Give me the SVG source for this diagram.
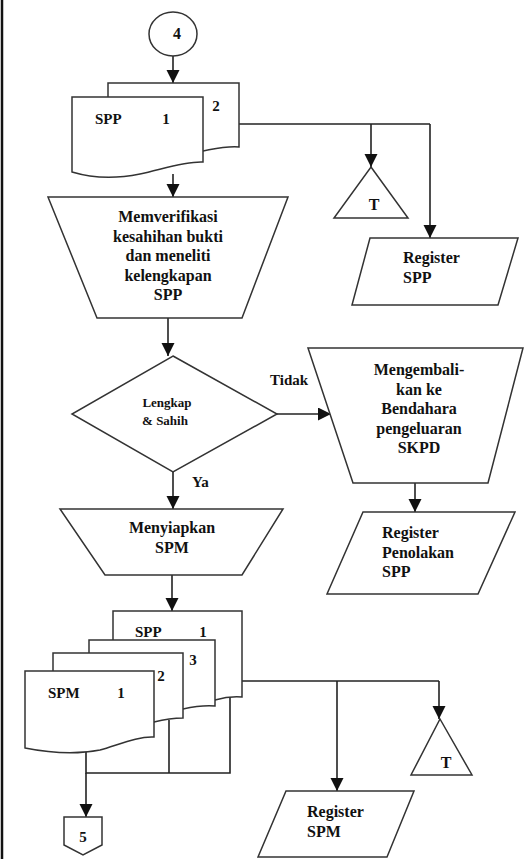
<svg xmlns="http://www.w3.org/2000/svg" width="530" height="859" viewBox="0 0 530 859">
<defs>
<marker id="ah" markerUnits="userSpaceOnUse" markerWidth="14" markerHeight="14" refX="13" refY="6.5" orient="auto">
<path d="M0,0 L13,6.5 L0,13 Z" fill="#111"/>
</marker>
<style>
.s{fill:#fff;stroke:#333;stroke-width:1.5}
.c{fill:none;stroke:#222;stroke-width:1.6}
.a{marker-end:url(#ah)}
.m{text-anchor:middle}
.sm{font-size:13px}
</style>
</defs>
<rect width="530" height="859" fill="#fff"/>
<line x1="2" y1="0" x2="2" y2="859" stroke="#111" stroke-width="2.5"/>

<g id="connectors">
<line class="c a" x1="173" y1="56" x2="173" y2="83"/>
<polyline class="c" points="239,124 430,124"/>
<line class="c a" x1="430" y1="124" x2="430" y2="238"/>
<line class="c a" x1="371" y1="124" x2="371" y2="167"/>
<line class="c a" x1="173" y1="174" x2="173" y2="197"/>
<line class="c a" x1="168" y1="318" x2="168" y2="356"/>
<line class="c a" x1="277" y1="414" x2="331" y2="414"/>
<line class="c a" x1="173" y1="472" x2="173" y2="509"/>
<line class="c a" x1="415" y1="483" x2="415" y2="512"/>
<line class="c a" x1="172" y1="575" x2="172" y2="611"/>
<polyline class="c" points="215,681 439,681"/>
<line class="c a" x1="337" y1="681" x2="337" y2="791"/>
<line class="c a" x1="439" y1="681" x2="439" y2="719"/>
<polyline class="c" points="86,752 86,773 230,773 230,697"/>
<line class="c" x1="169" y1="720" x2="169" y2="773"/>
<line class="c a" x1="86" y1="773" x2="86" y2="817" stroke-width="2.4"/>
</g>

<g font-family="Liberation Serif, Tinos, Times New Roman, serif" font-weight="bold" font-size="16" fill="#111">
<g id="conn4">
<ellipse class="s" cx="173" cy="34" rx="24" ry="22"/>
<text class="m" x="177" y="39">4</text>
</g>

<g id="doc-spp-top">
<path class="s" d="M108,83 H239 V147 C225,146 214,149 203,151 L108,151 Z"/>
<path class="s" d="M72,97 H203 V162 C185,161 160,170 140,174 C115,179 92,178 72,172 Z"/>
<text x="95" y="124" font-size="15">SPP</text>
<text class="m" x="166" y="124" font-size="15">1</text>
<text class="m" x="216" y="111" font-size="15">2</text>
</g>

<g id="t1">
<path class="s" d="M371,167 L408,218 L334,218 Z"/>
<text class="m" x="374" y="210">T</text>
</g>

<g id="reg-spp">
<path class="s" d="M370,238 H518 L498,305 H352 Z"/>
<text x="403" y="263">Register</text>
<text x="403" y="283">SPP</text>
</g>

<g id="verifikasi">
<path class="s" d="M48,197 H288 L242,318 H97 Z"/>
<text class="m" x="168" y="222">Memverifikasi</text>
<text class="m" x="168" y="241.5">kesahihan bukti</text>
<text class="m" x="168" y="261">dan meneliti</text>
<text class="m" x="168" y="280.5">kelengkapan</text>
<text class="m" x="168" y="300">SPP</text>
</g>

<g id="decision">
<path class="s" d="M173,356 L277,414 L173,472 L72,414 Z"/>
<text class="m sm" x="167" y="407">Lengkap</text>
<text class="m sm" x="165" y="425">&amp; Sahih</text>
<text x="270" y="385" font-size="15">Tidak</text>
<text x="192" y="487" font-size="15">Ya</text>
</g>

<g id="kembali">
<path class="s" d="M308,348 H523 L488,483 H353 Z"/>
<text class="m" x="419" y="375">Mengembali-</text>
<text class="m" x="419" y="394.5">kan ke</text>
<text class="m" x="419" y="414">Bendahara</text>
<text class="m" x="419" y="433.5">pengeluaran</text>
<text class="m" x="419" y="453">SKPD</text>
</g>

<g id="reg-tolak">
<path class="s" d="M363,512 H515 L478,594 H327 Z"/>
<text x="382" y="538">Register</text>
<text x="382" y="557.5">Penolakan</text>
<text x="382" y="577">SPP</text>
</g>

<g id="siapkan">
<path class="s" d="M60,509 H283 L242,575 H105 Z"/>
<text class="m" x="172" y="533">Menyiapkan</text>
<text class="m" x="172" y="553">SPM</text>
</g>

<g id="doc-spm">
<path class="s" d="M113,611 H242 V697 C230,696 222,698 215,700 L113,700 Z"/>
<text x="135" y="637" font-size="15">SPP</text>
<text class="m" x="203" y="637" font-size="15">1</text>
<path class="s" d="M89,640 H215 V706 C203,705 192,707 183,709 L89,709 Z"/>
<text class="m" x="193" y="665" font-size="15">3</text>
<path class="s" d="M53,653 H183 V718 C172,718 162,720 154,722 L53,722 Z"/>
<text class="m" x="161" y="681" font-size="15">2</text>
<path class="s" d="M25,671 H154 V737 C138,736 118,745 100,750 C75,755 45,752 25,748 Z"/>
<text x="48" y="698" font-size="15">SPM</text>
<text class="m" x="121" y="698" font-size="15">1</text>
</g>

<g id="t2">
<path class="s" d="M440,719 L472,775 L411,775 Z"/>
<text class="m" x="446" y="768">T</text>
</g>

<g id="reg-spm">
<path class="s" d="M286,791 H414 L387,857 H258 Z"/>
<text x="307" y="817">Register</text>
<text x="307" y="837">SPM</text>
</g>

<g id="conn5">
<path class="s" d="M64,817 H102 V845 L83,855 L64,845 Z"/>
<text class="m" x="83" y="842" font-size="15">5</text>
</g>
</g>
</svg>
